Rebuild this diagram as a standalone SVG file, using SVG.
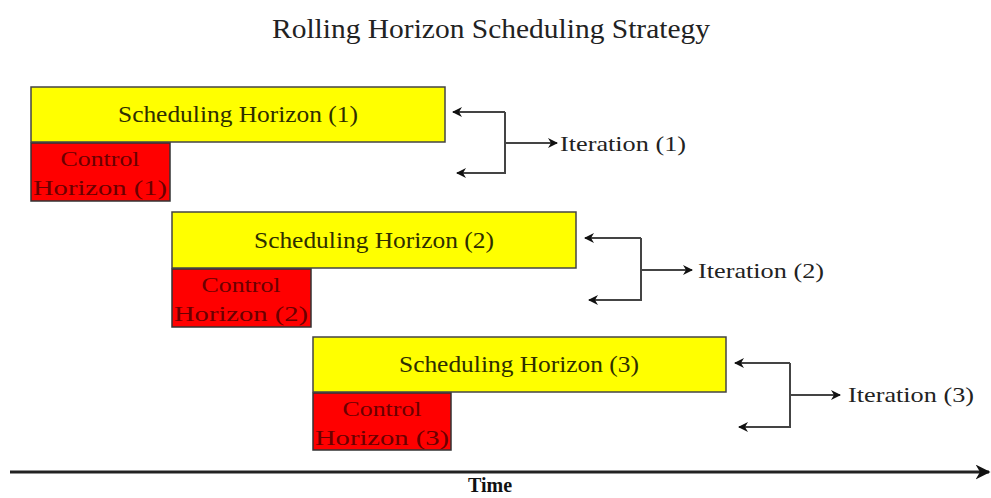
<svg xmlns="http://www.w3.org/2000/svg" width="991" height="498" viewBox="0 0 991 498">
<defs>
<style>
.sched{fill:#ffff00;stroke:#444;stroke-width:1.5}
.ctrl{fill:#ff0000;stroke:#333;stroke-width:1.5}
.t{font-family:"Liberation Serif","Times New Roman",serif}
.st{font-size:23px;fill:#2e2e00;text-anchor:middle}
.ct{font-size:21px;fill:#6a0000;text-anchor:middle}
.it{font-size:21px;fill:#222}
.conn{fill:none;stroke:#444;stroke-width:2}
</style>
<marker id="ah" viewBox="0 0 10 10" refX="9" refY="5" markerWidth="5" markerHeight="5" orient="auto" markerUnits="strokeWidth">
<path d="M0,0 L10,5 L0,10 L3,5 Z" fill="#111"/>
</marker>
</defs>
<rect width="991" height="498" fill="#fff"/>
<text class="t" x="491" y="38" font-size="27" fill="#222" text-anchor="middle" textLength="438" lengthAdjust="spacingAndGlyphs">Rolling Horizon Scheduling Strategy</text>

<g id="sched1"><rect class="sched" x="31" y="87" width="414" height="55"/><text class="t st" x="238" y="122" textLength="240" lengthAdjust="spacingAndGlyphs">Scheduling Horizon (1)</text></g>
<g id="ctrl1"><rect class="ctrl" x="31" y="143" width="139" height="58"/><text class="t ct" x="100" y="166" textLength="79" lengthAdjust="spacingAndGlyphs">Control</text><text class="t ct" x="100" y="195" textLength="134" lengthAdjust="spacingAndGlyphs">Horizon (1)</text></g>

<g id="sched2"><rect class="sched" x="172" y="212" width="404" height="56"/><text class="t st" x="374" y="248" textLength="240" lengthAdjust="spacingAndGlyphs">Scheduling Horizon (2)</text></g>
<g id="ctrl2"><rect class="ctrl" x="172" y="269" width="139" height="58"/><text class="t ct" x="241" y="292" textLength="79" lengthAdjust="spacingAndGlyphs">Control</text><text class="t ct" x="241" y="321" textLength="134" lengthAdjust="spacingAndGlyphs">Horizon (2)</text></g>

<g id="sched3"><rect class="sched" x="313" y="337" width="413" height="55"/><text class="t st" x="519" y="372" textLength="240" lengthAdjust="spacingAndGlyphs">Scheduling Horizon (3)</text></g>
<g id="ctrl3"><rect class="ctrl" x="313" y="393" width="138" height="57"/><text class="t ct" x="382" y="416" textLength="79" lengthAdjust="spacingAndGlyphs">Control</text><text class="t ct" x="382" y="445" textLength="134" lengthAdjust="spacingAndGlyphs">Horizon (3)</text></g>

<g id="iter1"><text class="t it" x="560" y="151" textLength="126" lengthAdjust="spacingAndGlyphs">Iteration (1)</text></g>
<g id="iter2"><text class="t it" x="698" y="278" textLength="126" lengthAdjust="spacingAndGlyphs">Iteration (2)</text></g>
<g id="iter3"><text class="t it" x="848" y="402" textLength="126" lengthAdjust="spacingAndGlyphs">Iteration (3)</text></g>

<g id="time"><text class="t" x="490" y="492" font-size="20" font-weight="bold" fill="#111" text-anchor="middle">Time</text></g>

<g id="connectors">
<path class="conn" d="M505,112 H453" marker-end="url(#ah)"/>
<path class="conn" d="M505,112 V173 H457" marker-end="url(#ah)"/>
<path class="conn" d="M505,143 H557" marker-end="url(#ah)"/>

<path class="conn" d="M641,238 H585" marker-end="url(#ah)"/>
<path class="conn" d="M641,238 V300 H589" marker-end="url(#ah)"/>
<path class="conn" d="M641,270 H692" marker-end="url(#ah)"/>

<path class="conn" d="M790,363 H735" marker-end="url(#ah)"/>
<path class="conn" d="M790,363 V427 H739" marker-end="url(#ah)"/>
<path class="conn" d="M790,395 H840" marker-end="url(#ah)"/>

<path d="M10,472 H989" fill="none" stroke="#222" stroke-width="3" marker-end="url(#ah)"/>
</g>
</svg>
